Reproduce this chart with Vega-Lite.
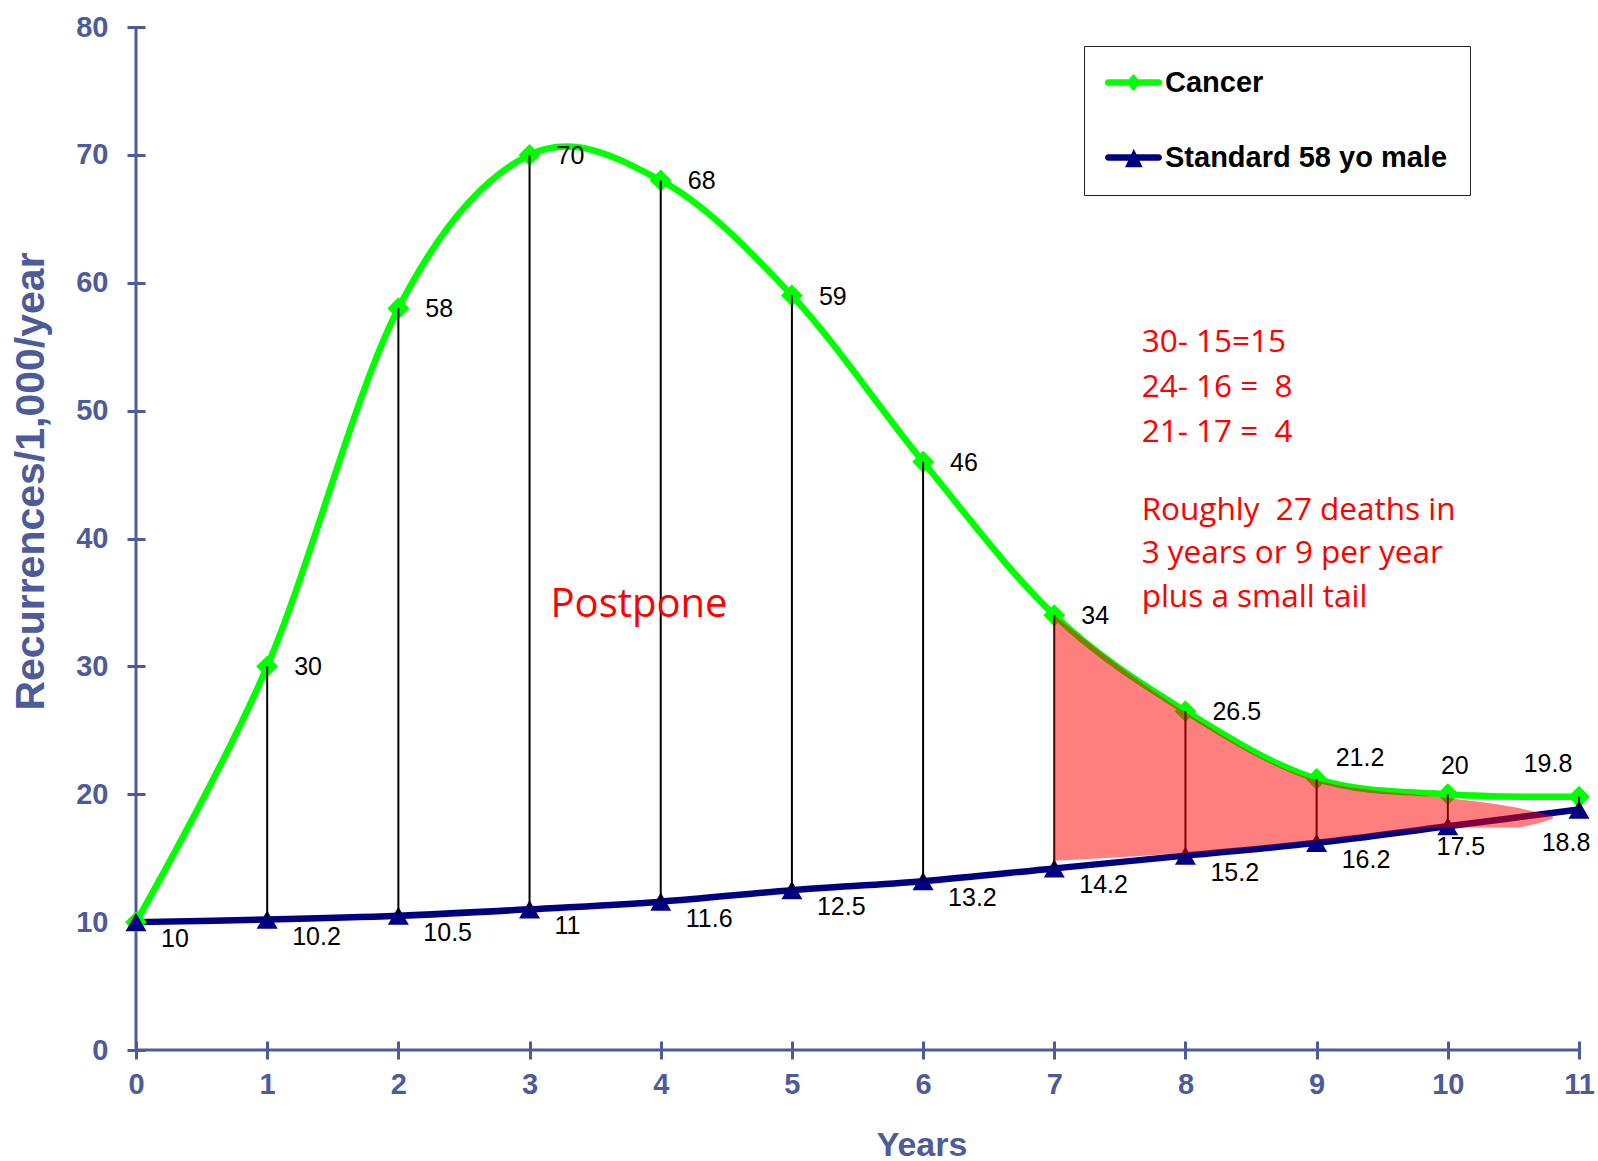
{
  "$schema": "https://vega.github.io/schema/vega-lite/v6.json",
  "width": 1443,
  "height": 1023,
  "autosize": {"type": "none"},
  "padding": {"left": 136, "top": 27, "right": 19, "bottom": 111},
  "background": "white",
  "config": {
    "view": {"stroke": null},
    "axis": {
      "labelFont": "Liberation Sans",
      "labelFontWeight": "bold",
      "labelFontSize": 29,
      "labelColor": "#4E5B9A",
      "labelFlush": false,
      "labelOverlap": false,
      "tickColor": "#4E5B9A",
      "tickWidth": 3,
      "titleFont": "Liberation Sans",
      "titleFontWeight": "bold",
      "titleColor": "#4E5B9A",
      "grid": false,
      "domain": false
    },
    "legend": {
      "orient": "none",
      "legendX": 948,
      "legendY": 19,
      "padding": 22,
      "strokeColor": "#222222",
      "fillColor": "white",
      "labelFont": "Liberation Sans",
      "labelFontSize": 29,
      "labelFontWeight": "bold",
      "labelColor": "black",
      "labelLimit": 600,
      "labelOffset": 30,
      "rowPadding": 45,
      "symbolSize": 400,
      "symbolStrokeWidth": 0,
      "symbolOpacity": 1
    }
  },
  "datasets": {
    "series": [
      {"year": 0, "series": "Cancer", "value": 10},
      {"year": 1, "series": "Cancer", "value": 30},
      {"year": 2, "series": "Cancer", "value": 58},
      {"year": 3, "series": "Cancer", "value": 70},
      {"year": 4, "series": "Cancer", "value": 68},
      {"year": 5, "series": "Cancer", "value": 59},
      {"year": 6, "series": "Cancer", "value": 46},
      {"year": 7, "series": "Cancer", "value": 34},
      {"year": 8, "series": "Cancer", "value": 26.5},
      {"year": 9, "series": "Cancer", "value": 21.2},
      {"year": 10, "series": "Cancer", "value": 20},
      {"year": 11, "series": "Cancer", "value": 19.8},
      {"year": 0, "series": "Standard 58 yo male", "value": 10},
      {"year": 1, "series": "Standard 58 yo male", "value": 10.2},
      {"year": 2, "series": "Standard 58 yo male", "value": 10.5},
      {"year": 3, "series": "Standard 58 yo male", "value": 11},
      {"year": 4, "series": "Standard 58 yo male", "value": 11.6},
      {"year": 5, "series": "Standard 58 yo male", "value": 12.5},
      {"year": 6, "series": "Standard 58 yo male", "value": 13.2},
      {"year": 7, "series": "Standard 58 yo male", "value": 14.2},
      {"year": 8, "series": "Standard 58 yo male", "value": 15.2},
      {"year": 9, "series": "Standard 58 yo male", "value": 16.2},
      {"year": 10, "series": "Standard 58 yo male", "value": 17.5},
      {"year": 11, "series": "Standard 58 yo male", "value": 18.8}
    ],
    "shade": [
      {"year": 7, "top": 34, "bottom": 14.8},
      {"year": 8, "top": 26.4, "bottom": 15.4},
      {"year": 9, "top": 21.1, "bottom": 16.4},
      {"year": 10, "top": 19.7, "bottom": 17.4},
      {"year": 10.5, "top": 19.0, "bottom": 17.4},
      {"year": 10.8, "top": 18.3, "bottom": 18.1}
    ]
  },
  "layer": [
    {
      "data": {"values": [{}]},
      "mark": {"type": "rule", "color": "#4E5B9A", "strokeWidth": 3},
      "encoding": {"x": {"datum": 0, "type": "quantitative"}, "y": {"datum": 0, "type": "quantitative"}, "y2": {"datum": 80}}
    },
    {
      "data": {"values": [{}]},
      "mark": {"type": "rule", "color": "#4E5B9A", "strokeWidth": 3},
      "encoding": {"x": {"datum": 0, "type": "quantitative"}, "x2": {"datum": 11}, "y": {"datum": 0, "type": "quantitative"}}
    },
    {
      "data": {"name": "series"},
      "mark": {"type": "line", "interpolate": "cardinal", "strokeWidth": 6.5, "strokeCap": "round", "strokeJoin": "round"},
      "encoding": {
        "x": {
          "field": "year", "type": "quantitative",
          "scale": {"domain": [0, 11], "nice": false},
          "axis": {
            "values": [0, 1, 2, 3, 4, 5, 6, 7, 8, 9, 10, 11],
            "format": "d",
            "title": "Years",
            "offset": -9,
            "tickSize": 18,
            "labelPadding": 25,
            "labelBaseline": "middle",
            "titleFontSize": 34,
            "titleX": 785.5,
            "titleY": 114,
            "titleAlign": "center",
            "titleBaseline": "alphabetic"
          }
        },
        "y": {
          "field": "value", "type": "quantitative",
          "scale": {"domain": [0, 80], "nice": false},
          "axis": {
            "values": [0, 10, 20, 30, 40, 50, 60, 70, 80],
            "title": "Recurrences/1,000/year",
            "offset": -9,
            "tickSize": 18,
            "labelPadding": 19,
            "titleFontSize": 41,
            "titleAngle": -90,
            "titleX": -102,
            "titleY": 454,
            "titleAlign": "center",
            "titleBaseline": "alphabetic"
          }
        },
        "color": {
          "field": "series", "type": "nominal",
          "scale": {"domain": ["Cancer", "Standard 58 yo male"], "range": ["#00FF00", "#000080"]},
          "legend": {"title": null}
        }
      }
    },
    {
      "data": {"name": "series"},
      "transform": [{"filter": "datum.series === 'Cancer'"}],
      "mark": {"type": "point", "filled": true, "opacity": 1, "size": 480, "shape": "diamond"},
      "encoding": {
        "x": {"field": "year", "type": "quantitative"},
        "y": {"field": "value", "type": "quantitative"},
        "color": {"field": "series", "type": "nominal", "legend": {"title": null}}
      }
    },
    {
      "data": {"name": "series"},
      "transform": [{"filter": "datum.series !== 'Cancer'"}],
      "mark": {"type": "point", "filled": true, "opacity": 1, "size": 440, "shape": "triangle-up"},
      "encoding": {
        "x": {"field": "year", "type": "quantitative"},
        "y": {"field": "value", "type": "quantitative"},
        "color": {"field": "series", "type": "nominal", "legend": {"title": null}}
      }
    },
    {
      "data": {"name": "series"},
      "transform": [{"filter": "false"}],
      "mark": {"type": "point", "filled": true, "opacity": 1, "size": 400},
      "encoding": {
        "x": {"field": "year", "type": "quantitative"},
        "y": {"field": "value", "type": "quantitative"},
        "color": {"field": "series", "type": "nominal", "legend": {"title": null}},
        "shape": {
          "field": "series", "type": "nominal",
          "scale": {
            "domain": ["Cancer", "Standard 58 yo male"],
            "range": [
              "M-1.22,-0.33L3.82,-0.33A0.33,0.33 0 0 1 3.82,0.33L-1.22,0.33A0.33,0.33 0 0 1 -1.22,-0.33Z M1.3,-0.85L2.05,0L1.3,0.85L0.55,0Z",
              "M-1.22,-0.33L3.82,-0.33A0.33,0.33 0 0 1 3.82,0.33L-1.22,0.33A0.33,0.33 0 0 1 -1.22,-0.33Z M1.33,-0.87L2.21,0.97L0.45,0.97Z"
            ]
          },
          "legend": {"title": null}
        }
      }
    },
    {
      "data": {"name": "series"},
      "transform": [{"pivot": "series", "value": "value", "groupby": ["year"]}],
      "mark": {"type": "rule", "color": "black", "strokeWidth": 2},
      "encoding": {
        "x": {"field": "year", "type": "quantitative"},
        "y": {"field": "Cancer", "type": "quantitative"},
        "y2": {"field": "Standard 58 yo male"}
      }
    },
    {
      "data": {"name": "series"},
      "transform": [{"filter": "datum.series === 'Cancer' && datum.year >= 1 && datum.year <= 8"}],
      "mark": {"type": "text", "font": "Liberation Sans", "fontSize": 25, "color": "black", "align": "left", "baseline": "middle", "dx": 27, "dy": 1},
      "encoding": {"x": {"field": "year", "type": "quantitative"}, "y": {"field": "value", "type": "quantitative"}, "text": {"field": "value", "type": "nominal"}}
    },
    {
      "data": {"name": "series"},
      "transform": [{"filter": "datum.series === 'Cancer' && datum.year === 9"}],
      "mark": {"type": "text", "font": "Liberation Sans", "fontSize": 25, "color": "black", "align": "left", "baseline": "middle", "dx": 19, "dy": -21},
      "encoding": {"x": {"field": "year", "type": "quantitative"}, "y": {"field": "value", "type": "quantitative"}, "text": {"field": "value", "type": "nominal"}}
    },
    {
      "data": {"name": "series"},
      "transform": [{"filter": "datum.series === 'Cancer' && datum.year === 10"}],
      "mark": {"type": "text", "font": "Liberation Sans", "fontSize": 25, "color": "black", "align": "center", "baseline": "middle", "dx": 7, "dy": -28},
      "encoding": {"x": {"field": "year", "type": "quantitative"}, "y": {"field": "value", "type": "quantitative"}, "text": {"field": "value", "type": "nominal"}}
    },
    {
      "data": {"name": "series"},
      "transform": [{"filter": "datum.series === 'Cancer' && datum.year === 11"}],
      "mark": {"type": "text", "font": "Liberation Sans", "fontSize": 25, "color": "black", "align": "center", "baseline": "middle", "dx": -31, "dy": -33},
      "encoding": {"x": {"field": "year", "type": "quantitative"}, "y": {"field": "value", "type": "quantitative"}, "text": {"field": "value", "type": "nominal"}}
    },
    {
      "data": {"name": "series"},
      "transform": [{"filter": "datum.series !== 'Cancer' && datum.year <= 9"}],
      "mark": {"type": "text", "font": "Liberation Sans", "fontSize": 25, "color": "black", "align": "left", "baseline": "middle", "dx": 25, "dy": 17},
      "encoding": {"x": {"field": "year", "type": "quantitative"}, "y": {"field": "value", "type": "quantitative"}, "text": {"field": "value", "type": "nominal"}}
    },
    {
      "data": {"name": "series"},
      "transform": [{"filter": "datum.series !== 'Cancer' && datum.year === 10"}],
      "mark": {"type": "text", "font": "Liberation Sans", "fontSize": 25, "color": "black", "align": "center", "baseline": "middle", "dx": 13, "dy": 21},
      "encoding": {"x": {"field": "year", "type": "quantitative"}, "y": {"field": "value", "type": "quantitative"}, "text": {"field": "value", "type": "nominal"}}
    },
    {
      "data": {"name": "series"},
      "transform": [{"filter": "datum.series !== 'Cancer' && datum.year === 11"}],
      "mark": {"type": "text", "font": "Liberation Sans", "fontSize": 25, "color": "black", "align": "center", "baseline": "middle", "dx": -13, "dy": 33},
      "encoding": {"x": {"field": "year", "type": "quantitative"}, "y": {"field": "value", "type": "quantitative"}, "text": {"field": "value", "type": "nominal"}}
    },
    {
      "data": {"values": [{}]},
      "mark": {"type": "text", "font": "Open Sans", "fontSize": 31.5, "color": "#FF0000", "align": "left", "baseline": "alphabetic", "lineHeight": 45, "text": ["30- 15=15", "24- 16 = \u00a08", "21- 17 = \u00a04"]},
      "encoding": {"x": {"datum": 7.666, "type": "quantitative"}, "y": {"datum": 54.58, "type": "quantitative"}}
    },
    {
      "data": {"values": [{}]},
      "mark": {"type": "text", "font": "Open Sans", "fontSize": 31.5, "color": "#FF0000", "align": "left", "baseline": "alphabetic", "lineHeight": 43.5, "text": ["Roughly \u00a027 deaths in", "3 years or 9 per year", "plus a small tail"]},
      "encoding": {"x": {"datum": 7.666, "type": "quantitative"}, "y": {"datum": 41.45, "type": "quantitative"}}
    },
    {
      "data": {"values": [{}]},
      "mark": {"type": "text", "font": "Open Sans", "fontSize": 40, "color": "#FF0000", "align": "left", "baseline": "alphabetic", "text": "Postpone"},
      "encoding": {"x": {"datum": 3.16, "type": "quantitative"}, "y": {"datum": 33.89, "type": "quantitative"}}
    },
    {
      "data": {"name": "shade"},
      "mark": {"type": "area", "color": "#FF0000", "opacity": 0.5, "interpolate": "monotone"},
      "encoding": {
        "x": {"field": "year", "type": "quantitative"},
        "y": {"field": "top", "type": "quantitative"},
        "y2": {"field": "bottom"}
      }
    }
  ]
}
